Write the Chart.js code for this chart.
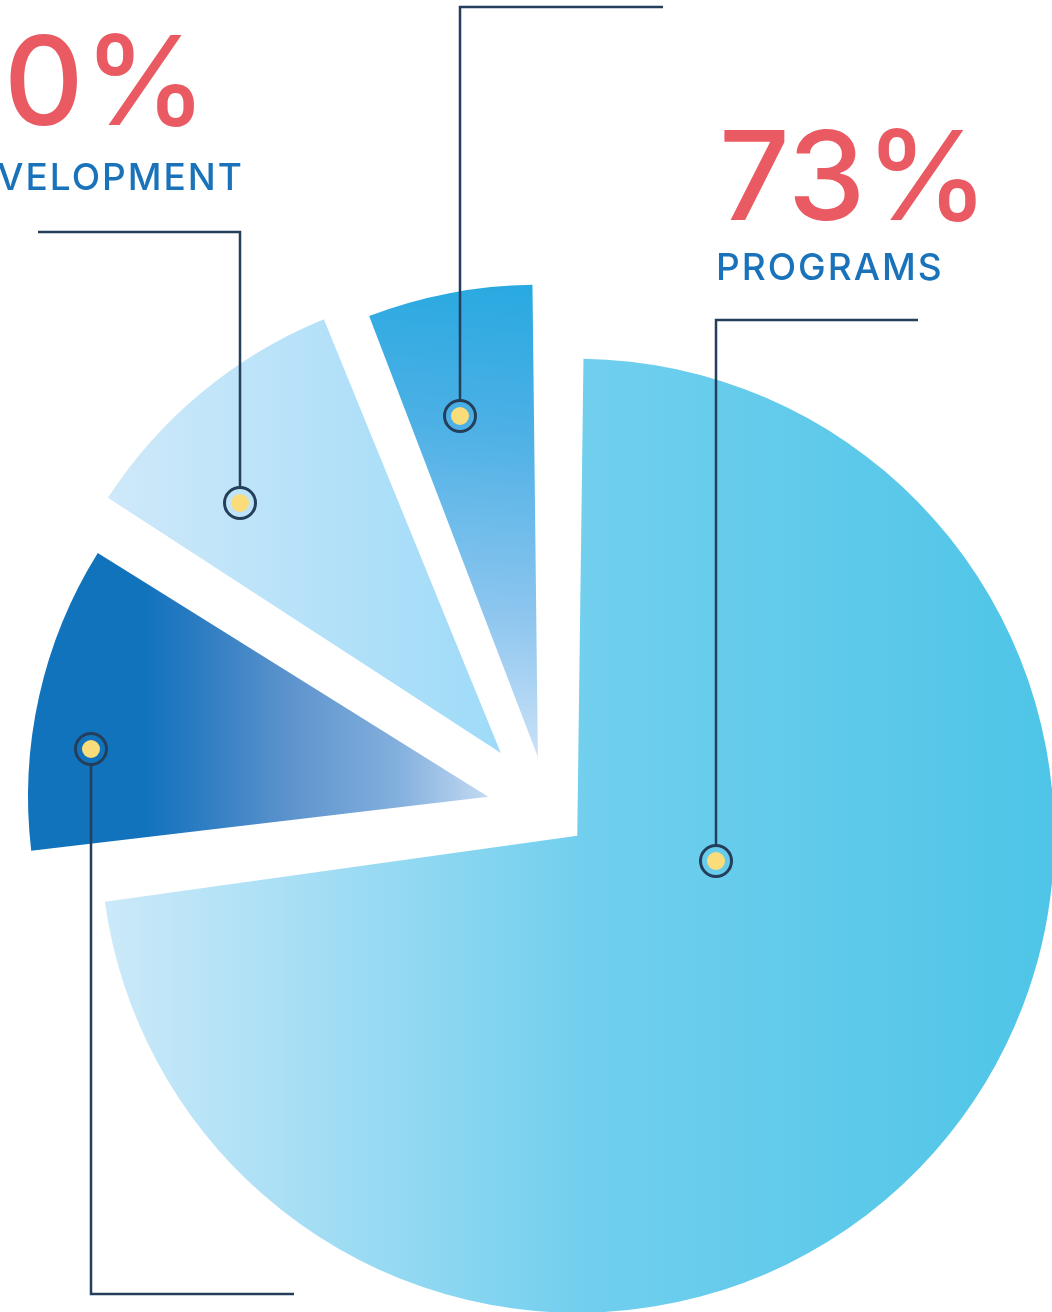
<!DOCTYPE html>
<html>
<head>
<meta charset="utf-8">
<title>Budget breakdown</title>
<script src="https://cdn.jsdelivr.net/npm/chart.js@4.4.1/dist/chart.umd.min.js"></script>
<style>
  html, body { margin: 0; padding: 0; background: #fff; overflow: hidden; }
  #wrap { position: relative; width: 1052px; height: 1312px; overflow: hidden; }
  #pie { position: absolute; left: 0; top: 0; }
  .pct, .cat { position: absolute; white-space: nowrap; font-family: "Inter", "Lato", sans-serif; }
  .pct { color: #ea5a62; font-weight: 500; font-size: 124px; line-height: 1; letter-spacing: 0px; }
  .cat { color: #1a73ba; font-weight: 500; font-size: 37px; line-height: 1; letter-spacing: 2px; }
</style>
</head>
<body>
<div id="wrap">
  <canvas id="pie" width="1052" height="1312"></canvas>
  <div class="pct" id="pct-programs" style="left:719px; top:113px;">73%</div>
  <div class="cat" id="cat-programs" style="left:716px; top:248px;">PROGRAMS</div>
  <div class="pct" id="pct-dev" style="right:845px; top:18px; text-align:right;">10%</div>
  <div class="cat" id="cat-dev" style="right:808px; top:158px; text-align:right;">DEVELOPMENT</div>
</div>
<script>
// Data
const categories = ["Programs", "Fundraising", "Development", "Administration"];
const shares = [73, 11, 10, 6];

// how far each slice is pulled out of the pie
const sliceOffsets = [156, 245, 296, 216];

// leader lines: dot, elbow, end
const leaders = [
  { dot: [716, 861], elbow: [716, 320], end: [918, 320] },
  { dot: [91, 749], elbow: [91, 1294], end: [294, 1294] },
  { dot: [240, 503], elbow: [240, 232], end: [38, 232] },
  { dot: [460, 416], elbow: [460, 7], end: [663, 7] },
];

function sliceFill(context) {
  const chart = context.chart;
  const area = chart.chartArea;
  if (!area) return "#6ccdee";
  const c = chart.ctx;
  const cx = (area.left + area.right) / 2;
  const cy = (area.top + area.bottom) / 2;
  let g;
  switch (context.dataIndex) {
    case 0:
      g = c.createLinearGradient(cx - 470, 0, cx + 475, 0);
      g.addColorStop(0, "#cbe9f9");
      g.addColorStop(0.5, "#72cfee");
      g.addColorStop(1, "#4ec5e7");
      return g;
    case 1:
      g = c.createLinearGradient(cx - 342, 0, cx + 5, 0);
      g.addColorStop(0, "#1273bd");
      g.addColorStop(0.14, "#2a7bc1");
      g.addColorStop(0.43, "#5f95ce");
      g.addColorStop(0.72, "#82afdd");
      g.addColorStop(1, "#c6dcf3");
      return g;
    case 2:
      g = c.createLinearGradient(cx - 405, 0, cx - 5, 0);
      g.addColorStop(0, "#d0e9f9");
      g.addColorStop(1, "#9fdbf8");
      return g;
    default:
      g = c.createLinearGradient(cx + 7, cy - 472, cx - 38, cy + 3);
      g.addColorStop(0, "#28a9e1");
      g.addColorStop(0.3, "#4bb0e5");
      g.addColorStop(0.7, "#8ec6ef");
      g.addColorStop(1, "#cde3f7");
      return g;
  }
}

const leaderPlugin = {
  id: "leaders",
  afterDraw(chart) {
    const c = chart.ctx;
    c.save();
    leaders.forEach((l) => {
      const dir = Math.sign(l.elbow[1] - l.dot[1]);
      c.strokeStyle = "#243e5b";
      c.lineWidth = 2.5;
      c.beginPath();
      c.moveTo(l.dot[0], l.dot[1] + dir * 16);
      c.lineTo(l.elbow[0], l.elbow[1]);
      c.lineTo(l.end[0], l.end[1]);
      c.stroke();
      c.lineWidth = 3;
      c.beginPath();
      c.arc(l.dot[0], l.dot[1], 15.5, 0, Math.PI * 2);
      c.stroke();
      c.fillStyle = "#fbdc7a";
      c.beginPath();
      c.arc(l.dot[0], l.dot[1], 9, 0, Math.PI * 2);
      c.fill();
    });
    c.restore();
  },
};

new Chart(document.getElementById("pie"), {
  type: "pie",
  data: {
    labels: categories,
    datasets: [
      {
        data: shares,
        backgroundColor: sliceFill,
        borderWidth: 0,
        offset: sliceOffsets,
      },
    ],
  },
  options: {
    responsive: false,
    devicePixelRatio: 1,
    animation: false,
    radius: 438,
    layout: { padding: { left: 44, right: 0, top: 308, bottom: 0 } },
    plugins: { legend: { display: false }, tooltip: { enabled: false } },
  },
  plugins: [leaderPlugin],
});
</script>
</body>
</html>
